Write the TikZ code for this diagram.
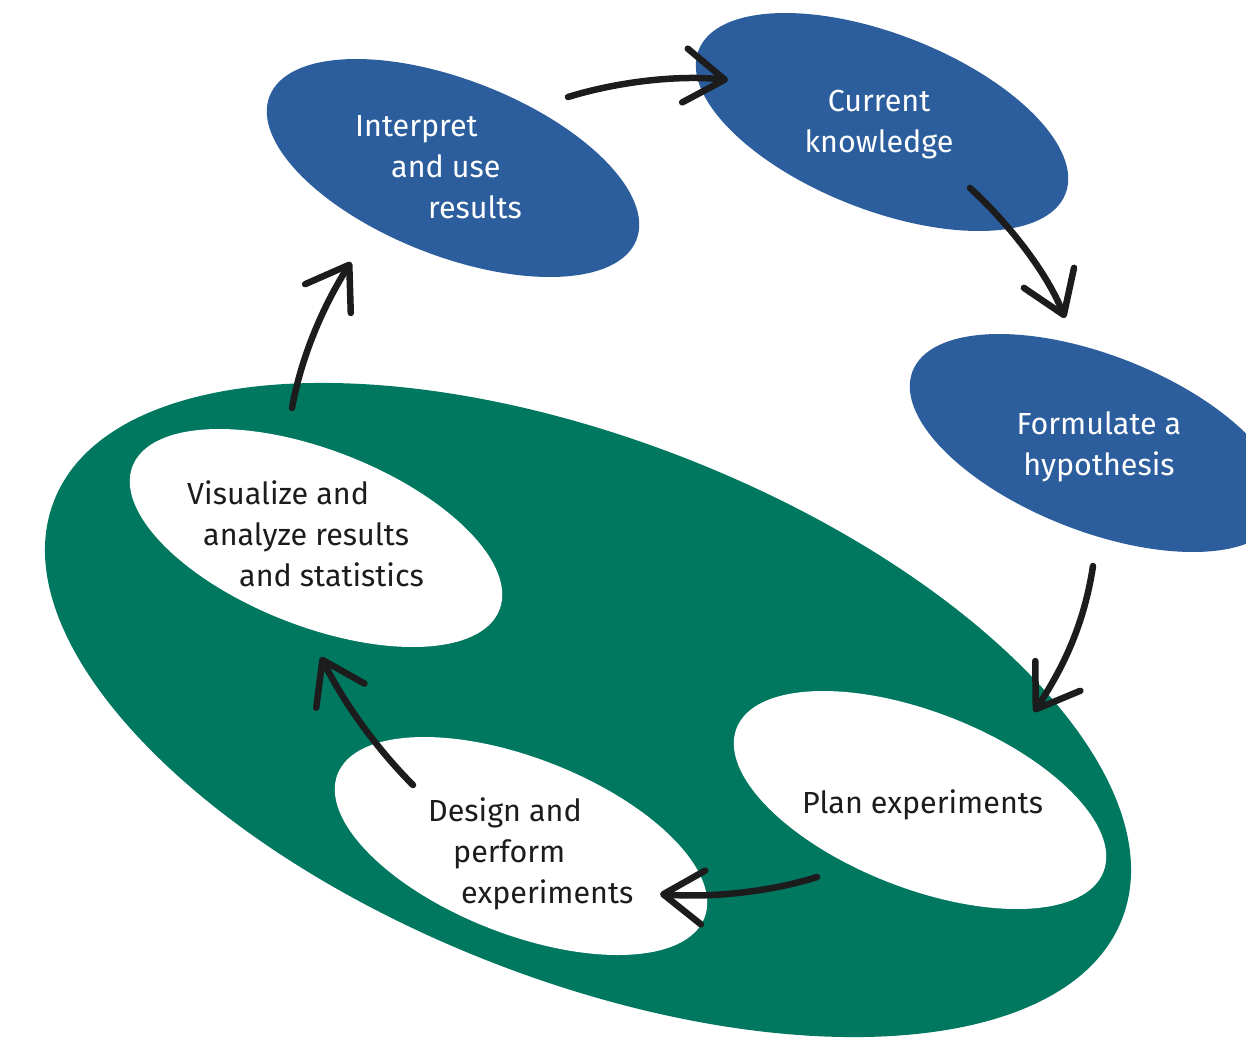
\documentclass[tikz,border=0pt]{standalone}
\usepackage{fontspec}
\setmainfont{Fira Sans}
\usetikzlibrary{shapes.geometric,arrows.meta}
\definecolor{blueC}{HTML}{2C5E9E}
\definecolor{greenC}{HTML}{00775F}
\definecolor{inkC}{HTML}{1C1C1C}
\tikzset{
  blob/.style={ellipse, fill=#1, draw=none, inner sep=0pt, rotate=-21.4,
               minimum width=394pt, minimum height=176pt},
  bigblob/.style={ellipse, fill=greenC, draw=none, inner sep=0pt, rotate=-21.4,
               minimum width=1147pt, minimum height=540pt},
  lbl/.style={inner sep=0pt, font=\fontsize{30.5}{41}\selectfont, text=#1},
  flow/.style={draw=inkC, line width=6.5pt, line cap=round, line join=round,
               -{Straight Barb[length=40pt, width=54pt, line cap=round, line join=round]}}
}
\begin{document}
\begin{tikzpicture}[x=1pt, y=-1pt]
\useasboundingbox (0,0) rectangle (1246,1037);
\begin{scope}
\clip (0,0) rectangle (1246,1037);
% big green ellipse
\node[bigblob] (lab) at (588,710) {};
% blue ellipses
\node[blob=blueC] (interp) at (453,168) {};
\node[blob=blueC] (know) at (882,122) {};
\node[blob=blueC] (hyp) at (1096,443) {};
% white ellipses
\node[blob=white] (vis) at (316,538) {};
\node[blob=white] (design) at (521,846) {};
\node[blob=white] (plan) at (920,800) {};
\end{scope}
% texts (anchor = baseline of the last line)
\node[lbl=white, anchor=base west, align=left] (interpT) at (355,218)
  {Interpret\\\hspace*{36pt}and use\\\hspace*{73pt}results};
\node[lbl=white, anchor=base, align=center] (knowT) at (879,152)
  {Current\\knowledge};
\node[lbl=white, anchor=base, align=center] (hypT) at (1099,475)
  {Formulate a\\hypothesis};
\node[lbl=inkC, anchor=base west, align=left] (visT) at (187,586)
  {Visualize and\\\hspace*{16pt}analyze results\\\hspace*{52pt}and statistics};
\node[lbl=inkC, anchor=base west, align=left] (designT) at (428,903)
  {Design and\\\hspace*{25pt}perform\\\hspace*{33pt}experiments};
\node[lbl=inkC, anchor=base west] (planT) at (802,813) {Plan experiments};
% connector end points
\coordinate (a1s) at (568,97);   \coordinate (a1e) at (728,80);
\coordinate (a2s) at (970,188);  \coordinate (a2e) at (1065,318);
\coordinate (a3s) at (1093,566); \coordinate (a3e) at (1034,712);
\coordinate (a4s) at (817,877);  \coordinate (a4e) at (660,894);
\coordinate (a5s) at (413,785);  \coordinate (a5e) at (321,657);
\coordinate (a6s) at (292,408);  \coordinate (a6e) at (351,262);
% connectors
\draw[flow] (a1s) .. controls (620,81) and (680,75) .. (a1e);
\draw[flow] (a2s) .. controls (1003,218) and (1045,268) .. (a2e);
\draw[flow] (a3s) .. controls (1084,625) and (1063,668) .. (a3e);
\draw[flow] (a4s) .. controls (770,892) and (710,898) .. (a4e);
\draw[flow] (a5s) .. controls (378,750) and (345,705) .. (a5e);
\draw[flow] (a6s) .. controls (301,358) and (322,308) .. (a6e);
\end{tikzpicture}
\end{document}
